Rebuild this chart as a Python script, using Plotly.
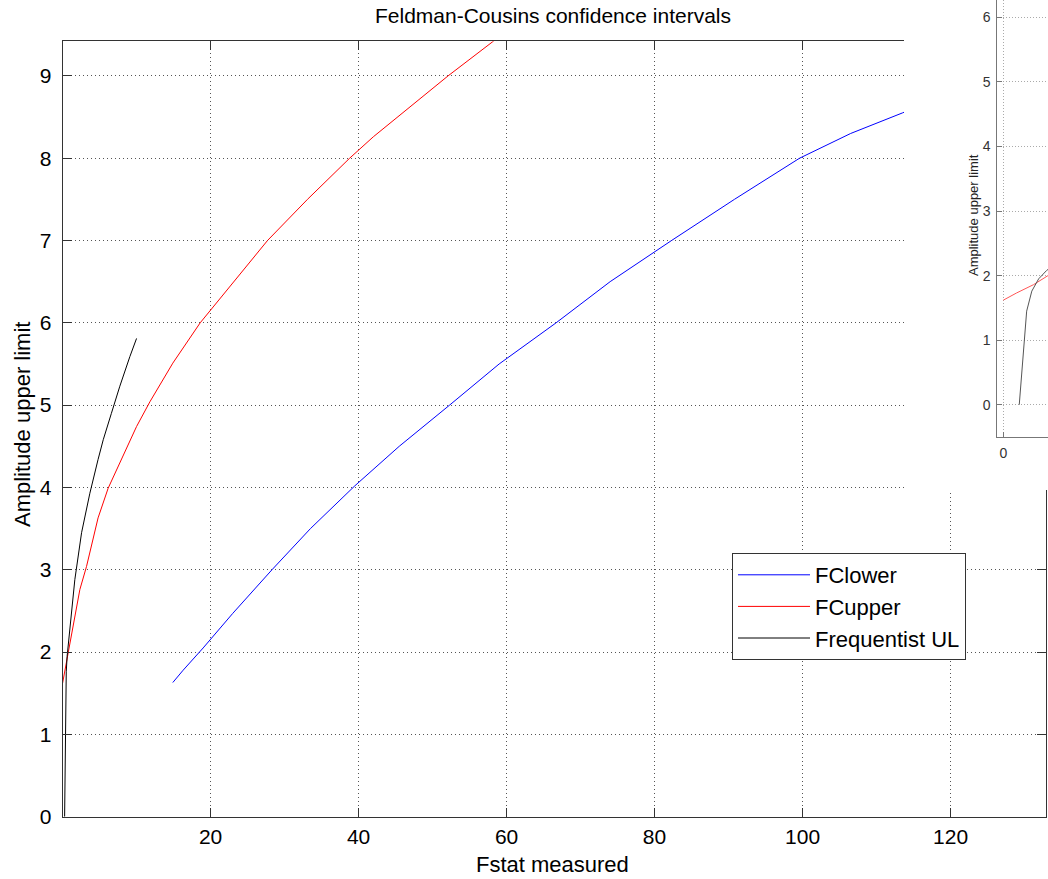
import plotly.graph_objects as go

# ---- data ----
fc_lower_F = [14.9, 16.3, 19.0, 23.0, 28.3, 33.5, 39.5, 45.5, 52.3, 59.0, 66.7,
              74.0, 82.3, 90.8, 99.6, 106.5, 113.5, 123.0, 133.0]
fc_lower_A = [1.63, 1.78, 2.05, 2.47, 3.0, 3.5, 4.02, 4.5, 5.0, 5.5, 6.0,
              6.5, 7.0, 7.5, 8.0, 8.3, 8.55, 8.9, 9.27]

fc_upper_F = [0.0, 0.23, 0.53, 0.76, 1.2, 2.34, 3.24, 4.8, 6.16, 7.3, 10.0, 11.8,
              14.9, 18.6, 21.3, 27.7, 33.1, 38.8, 42.0, 47.0, 52.1, 58.2, 60.0]
fc_upper_A = [1.62, 1.73, 1.86, 2.01, 2.23, 2.76, 3.04, 3.63, 3.99, 4.21, 4.74, 5.04,
              5.51, 6.0, 6.30, 7.0, 7.5, 8.0, 8.26, 8.63, 9.0, 9.42, 9.55]

freq_ul_F = [0.28, 0.33, 0.37, 0.41, 0.50, 0.62, 0.76, 1.08, 1.66, 2.57, 3.69, 4.8,
             5.5, 6.6, 7.74, 9.1, 10.0]
freq_ul_A = [0.0, 0.55, 1.0, 1.45, 1.76, 1.95, 2.08, 2.3, 2.88, 3.45, 3.93, 4.34,
             4.58, 4.90, 5.23, 5.59, 5.81]

series_names = ["FClower", "FCupper", "Frequentist UL"]
y_ticks_main = list(range(0, 10))
x_ticks_main = [20, 40, 60, 80, 100, 120]
y_ticks_inset = list(range(0, 7))

W, H = 1048, 879
FONT = "Liberation Sans, Arial, sans-serif"


def px_x(p):
    return p / W


def px_y(p):
    return 1 - p / H


fig = go.Figure()

colors = ["#0000FF", "#FF0000", "#000000"]
series = [(fc_lower_F, fc_lower_A), (fc_upper_F, fc_upper_A), (freq_ul_F, freq_ul_A)]

# main plot
for (fx, fy), name, c in zip(series, series_names, colors):
    fig.add_trace(go.Scatter(x=fx, y=fy, mode="lines", name=name,
                             line=dict(color=c, width=1), xaxis="x", yaxis="y"))

# mask: the overlapping second figure window (white background)
fig.add_trace(go.Scatter(x=[0, 1, 1, 0], y=[0, 0, 1, 1], fill="toself",
                         fillcolor="white", mode="lines", line=dict(width=0, color="white"),
                         hoverinfo="skip", showlegend=False, xaxis="x2", yaxis="y2"))

# inset (zoomed copy of the same curves)
inset_colors = ["#0000FF", "#FF5555", "#555555"]
for (fx, fy), name, c in zip(series, series_names, inset_colors):
    fig.add_trace(go.Scatter(x=fx, y=fy, mode="lines", name=name + " (zoom)",
                             showlegend=False, line=dict(color=c, width=1),
                             xaxis="x3", yaxis="y3"))

axis_main = dict(showline=True, linecolor="#333", linewidth=1, mirror="ticks",
                 ticks="inside", ticklen=9, tickcolor="#333", automargin=False,
                 showgrid=True, gridcolor="#555", griddash="1px,3px", gridwidth=1,
                 zeroline=False, tickfont=dict(family=FONT, size=21, color="black"))

inset_axis = dict(showline=True, linecolor="#777", linewidth=1, ticks="inside", ticklen=5,
                  tickcolor="#777", showgrid=True, gridcolor="#aaa", griddash="1px,2px",
                  zeroline=False, tickfont=dict(family=FONT, size=14, color="#333"),
                  ticklabelstandoff=3, automargin=False)

fig.update_layout(
    width=W, height=H, autosize=False,
    margin=dict(l=0, r=0, t=0, b=0, pad=0),
    paper_bgcolor="white", plot_bgcolor="white",
    showlegend=True,
    xaxis=dict(axis_main, domain=[px_x(62.7), px_x(1046)], range=[0.02, 132.9],
               tickvals=x_ticks_main, anchor="y", ticklabelstandoff=1),
    yaxis=dict(axis_main, domain=[px_y(816.7), px_y(41.3)], range=[0, 9.42],
               tickvals=y_ticks_main, anchor="x", ticklabelstandoff=6),
    xaxis2=dict(domain=[px_x(904), 1.0], range=[0, 1], visible=False, anchor="y2",
                fixedrange=True, automargin=False),
    yaxis2=dict(domain=[px_y(490), 1.0], range=[0, 1], visible=False, anchor="x2",
                fixedrange=True, automargin=False),
    xaxis3=dict(inset_axis, domain=[px_x(997.3), 1.0], range=[-0.105, 0.784], anchor="y3",
                tickvals=[0]),
    yaxis3=dict(inset_axis, domain=[px_y(437), 1.0], range=[-0.5, 6.27], anchor="x3",
                tickvals=y_ticks_inset),
    legend=dict(x=px_x(732), y=px_y(553), xanchor="left", yanchor="top",
                bgcolor="white", bordercolor="#333", borderwidth=1,
                font=dict(family=FONT, size=22, color="black"), itemwidth=72,
                tracegroupgap=0),
    annotations=[
        dict(text="Feldman-Cousins confidence intervals", x=px_x(553), y=px_y(15),
             xref="paper", yref="paper", xanchor="center", yanchor="middle",
             showarrow=False, font=dict(family=FONT, size=21, color="black")),
        dict(text="Fstat measured", x=px_x(552), y=px_y(864), xref="paper", yref="paper",
             xanchor="center", yanchor="middle", showarrow=False,
             font=dict(family=FONT, size=22, color="black")),
        dict(text="Amplitude upper limit", x=px_x(23), y=px_y(425), xref="paper",
             yref="paper", xanchor="center", yanchor="middle", textangle=-90,
             showarrow=False, font=dict(family=FONT, size=22, color="black")),
        dict(text="Amplitude upper limit", x=px_x(974), y=px_y(215), xref="paper",
             yref="paper", xanchor="center", yanchor="middle", textangle=-90,
             showarrow=False, font=dict(family=FONT, size=13, color="#222")),
    ],
)

fig.write_html(
    "out.html",
    config={"responsive": False, "displayModeBar": False},
    post_script="document.body.style.margin='0';document.body.style.overflow='hidden';",
)
